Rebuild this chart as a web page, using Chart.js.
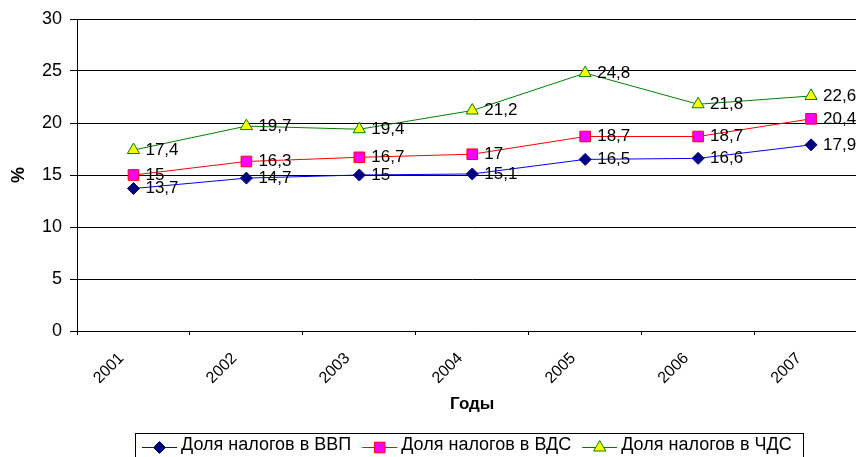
<!DOCTYPE html>
<html>
<head>
<meta charset="utf-8">
<script src="https://cdn.jsdelivr.net/npm/chart.js@4/dist/chart.umd.min.js"></script>
<style>
    html, body { margin: 0; padding: 0; background: #fff; overflow: hidden; }
    #wrap { width: 856px; height: 457px; overflow: hidden; }
    canvas { display: block; }
</style>
</head>
<body>
<div id="wrap"><canvas id="taxChart" width="876" height="457"></canvas></div>
<script>
// Tax share, % of GDP / GVA / NVA
const years = ['2001', '2002', '2003', '2004', '2005', '2006', '2007'];
const shareGdp = [13.7, 14.7, 15, 15.1, 16.5, 16.6, 17.9];
const shareGva = [15, 16.3, 16.7, 17, 18.7, 18.7, 20.4];
const shareNva = [17.4, 19.7, 19.4, 21.2, 24.8, 21.8, 22.6];
const yTicks = [0, 5, 10, 15, 20, 25, 30];

const FONT = '"Liberation Sans", Arial, sans-serif';

const seriesStyles = [
    { label: 'Доля налогов в ВВП', data: shareGdp, line: '#0000FF', fill: '#000080', edge: '#000080', style: 'rectRot', radius: 6 },
    { label: 'Доля налогов в ВДС', data: shareGva, line: '#FF0000', fill: '#FF00FF', edge: '#FF0000', style: 'rect', radius: 7.5 },
    { label: 'Доля налогов в ЧДС', data: shareNva, line: '#008000', fill: '#FFFF00', edge: '#008000', style: 'triangle', radius: 7 }
];

// values printed right of each marker, with decimal comma
const valueLabels = {
    id: 'valueLabels',
    afterDatasetsDraw(chart) {
        const ctx = chart.ctx;
        ctx.save();
        ctx.font = '17px ' + FONT;
        ctx.fillStyle = '#000';
        ctx.textAlign = 'left';
        ctx.textBaseline = 'middle';
        chart.data.datasets.forEach((ds, i) => {
            chart.getDatasetMeta(i).data.forEach((pt, j) => {
                ctx.fillText(String(ds.data[j]).replace('.', ','), pt.x + 12, pt.y);
            });
        });
        ctx.restore();
    }
};

// boxed legend under the axis title
const boxLegend = {
    id: 'boxLegend',
    afterDraw(chart) {
        const ctx = chart.ctx;
        ctx.save();
        ctx.font = '18px ' + FONT;
        ctx.textBaseline = 'middle';
        ctx.textAlign = 'left';

        ctx.strokeStyle = '#000';
        ctx.lineWidth = 1;
        ctx.strokeRect(135.5, 433.5, 668, 40);

        const cy = 447.5;
        let x = 142;
        seriesStyles.forEach(s => {
            ctx.strokeStyle = s.line;
            ctx.lineWidth = 1;
            ctx.beginPath();
            ctx.moveTo(x, cy);
            ctx.lineTo(x + 35, cy);
            ctx.stroke();

            ctx.fillStyle = s.fill;
            ctx.strokeStyle = s.edge;
            Chart.helpers.drawPoint(ctx, { pointStyle: s.style, radius: s.radius, rotation: 0, borderWidth: 1 }, x + 17.5, cy);

            ctx.fillStyle = '#000';
            ctx.fillText(s.label, x + 39, cy - 2);
            x += 39 + ctx.measureText(s.label).width + 11;
        });
        ctx.restore();
    }
};

const ctx = document.getElementById('taxChart').getContext('2d');
const taxChart = new Chart(ctx, {
    type: 'line',
    data: {
        labels: years,
        datasets: seriesStyles.map(s => ({
            label: s.label,
            data: s.data,
            borderColor: s.line,
            borderWidth: 1,
            backgroundColor: s.fill,
            pointBackgroundColor: s.fill,
            pointBorderColor: s.edge,
            pointBorderWidth: 1,
            pointStyle: s.style,
            pointRadius: s.radius,
            tension: 0
        }))
    },
    options: {
        responsive: false,
        animation: false,
        devicePixelRatio: 1,
        layout: { padding: { top: 19, left: 0, right: 0, bottom: 0 } },
        plugins: {
            legend: { display: false },
            tooltip: { enabled: false }
        },
        scales: {
            x: {
                offset: true,
                grid: {
                    offset: true,
                    drawOnChartArea: false,
                    drawTicks: true,
                    tickLength: 4,
                    color: '#000'
                },
                border: { color: '#000', width: 1 },
                ticks: {
                    color: '#000',
                    font: { family: FONT, size: 16 },
                    minRotation: 45,
                    maxRotation: 45,
                    padding: 14,
                    labelOffset: -12
                },
                title: {
                    display: true,
                    text: 'Годы',
                    color: '#000',
                    font: { family: FONT, size: 17, weight: 'bold' },
                    padding: { top: 0, bottom: 42 }
                },
                afterFit(scale) { scale.height = 126; }
            },
            y: {
                min: 0,
                max: 30,
                afterBuildTicks(scale) { scale.ticks = yTicks.map(v => ({ value: v })); },
                grid: {
                    color: '#000',
                    lineWidth: 1,
                    drawTicks: true,
                    tickLength: 7
                },
                border: { color: '#000', width: 1 },
                ticks: {
                    color: '#000',
                    font: { family: FONT, size: 18 },
                    padding: 8
                },
                title: {
                    display: true,
                    text: '%',
                    color: '#000',
                    font: { family: FONT, size: 18, weight: 'bold' },
                    padding: { top: 8, bottom: 0 }
                },
                afterFit(scale) { scale.width = 77; }
            }
        }
    },
    plugins: [valueLabels, boxLegend]
});
</script>
</body>
</html>
